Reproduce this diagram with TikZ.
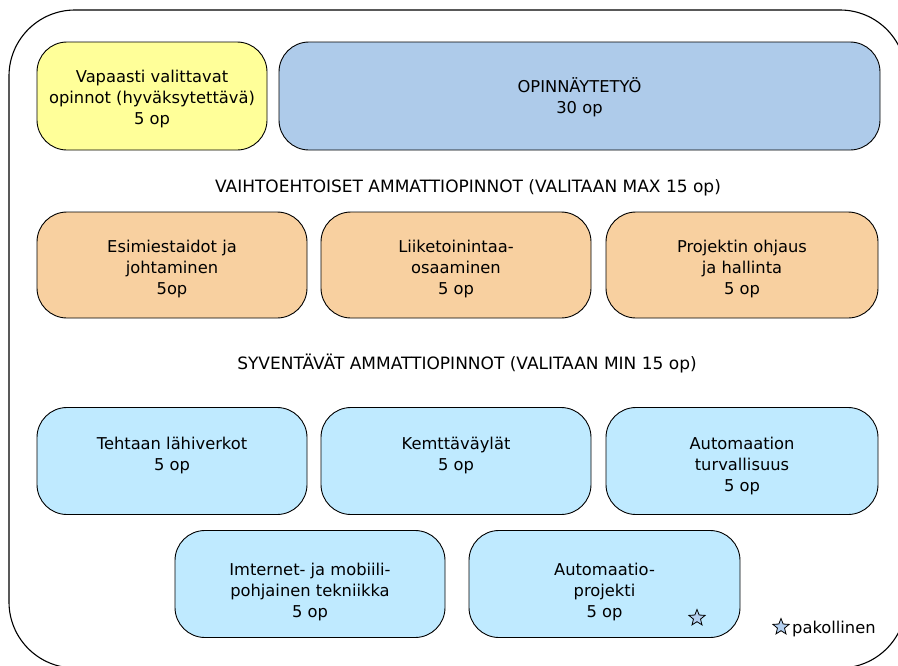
\documentclass[tikz,border=0pt]{standalone}
\usepackage{fontspec}
\setmainfont{DejaVu Sans}
\usetikzlibrary{shapes.geometric,calc}
\definecolor{freeY}{RGB}{255,255,153}
\definecolor{thesisB}{RGB}{174,203,234}
\definecolor{optO}{RGB}{248,208,160}
\definecolor{deepB}{RGB}{191,234,255}
\definecolor{starB}{RGB}{180,208,240}
\begin{document}
\begin{tikzpicture}[x=1pt,y=-1pt,
  course/.style={draw=black, line width=0.9pt, rounded corners=30pt, inner sep=0pt},
  ctext/.style={align=center, anchor=north, inner sep=0pt,
    font=\fontsize{16.3}{21}\selectfont},
  heading/.style={anchor=base, inner sep=0pt, font=\fontsize{17}{21}\selectfont},
  reqstar/.style={star, star points=5, star point ratio=2.3, minimum size=17pt,
    inner sep=0pt, draw=black, line width=0.8pt, fill=starB}]
\useasboundingbox (0,0) rectangle (898,665);

% outer frame, running off the right and bottom edges
\begin{scope}
  \clip (0,0) rectangle (898,665);
  \draw[line width=1.1pt, rounded corners=66pt] (9,10) rectangle (906,668);
\end{scope}

% top row
\node[course, fill=freeY, minimum width=230pt, minimum height=108pt] (free) at (152,96) {};
\node[ctext] (freet) at ($(free.north)+(0,28)$) {Vapaasti valittavat\\opinnot (hyväksytettävä)\\5 op};
\node[course, fill=thesisB, minimum width=601pt, minimum height=108pt] (thesis) at (579.5,96) {};
\node[ctext] (thesist) at ($(thesis.north)+(0,36)$) {OPINNÄYTETYÖ\\30 op};

% alternative studies
\node[heading] (h1) at (468,192) {VAIHTOEHTOISET AMMATTIOPINNOT (VALITAAN MAX 15 op)};
\node[course, fill=optO, minimum width=270pt, minimum height=106pt] (lead) at (172,265) {};
\node[ctext] (leadt) at ($(lead.north)+(0,28)$) {Esimiestaidot ja\\johtaminen\\5op};
\node[course, fill=optO, minimum width=270pt, minimum height=106pt] (biz) at (456,265) {};
\node[ctext] (bizt) at ($(biz.north)+(0,28)$) {Liiketoinintaa-\\osaaminen\\5 op};
\node[course, fill=optO, minimum width=272pt, minimum height=106pt] (proj) at (742,265) {};
\node[ctext] (projt) at ($(proj.north)+(0,28)$) {Projektin ohjaus\\ja hallinta\\5 op};

% deepening studies
\node[heading] (h2) at (467,369) {SYVENTÄVÄT AMMATTIOPINNOT (VALITAAN MIN 15 op)};
\node[course, fill=deepB, minimum width=270pt, minimum height=107pt] (lan) at (172,461) {};
\node[ctext] (lant) at ($(lan.north)+(0,29.5)$) {Tehtaan lähiverkot\\5 op};
\node[course, fill=deepB, minimum width=270pt, minimum height=107pt] (bus) at (456,461) {};
\node[ctext] (bust) at ($(bus.north)+(0,29.5)$) {Kemttäväylät\\5 op};
\node[course, fill=deepB, minimum width=272pt, minimum height=107pt] (safe) at (742,461) {};
\node[ctext] (safet) at ($(safe.north)+(0,29.5)$) {Automaation\\turvallisuus\\5 op};
\node[course, fill=deepB, minimum width=270pt, minimum height=107pt] (web) at (310,584) {};
\node[ctext] (webt) at ($(web.north)+(0,33)$) {Imternet- ja mobiili-\\pohjainen tekniikka\\5 op};
\node[course, fill=deepB, minimum width=271pt, minimum height=107pt] (auto) at (604.5,584) {};
\node[ctext] (autot) at ($(auto.north)+(0,33)$) {Automaatio-\\projekti\\5 op};
\node[reqstar] (req) at (697,618) {};

% legend
\node[reqstar] (legstar) at (781,627) {};
\node[heading, anchor=base west, font=\fontsize{16.3}{21}\selectfont] (legt) at (792,633) {pakollinen};
\end{tikzpicture}
\end{document}
